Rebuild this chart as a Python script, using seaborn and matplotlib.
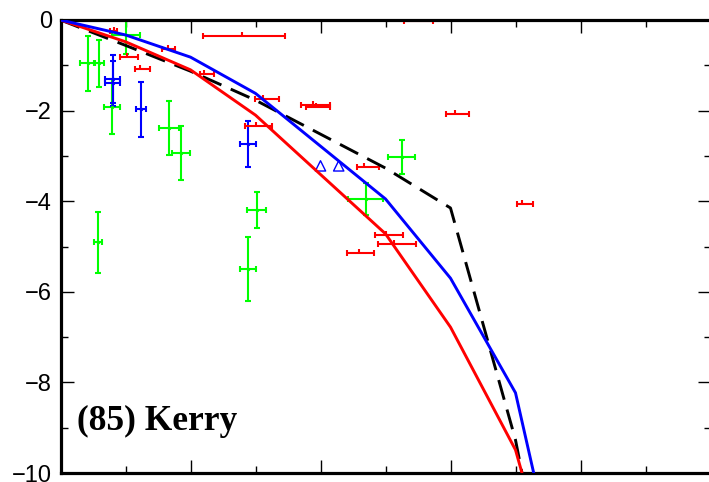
import numpy as np
import matplotlib
matplotlib.use("Agg")
import matplotlib.pyplot as plt
import seaborn as sns
from matplotlib.ticker import MultipleLocator

# model curves
curve_x_red = [0.0, 0.5, 1.0, 1.5, 2.5, 3.0, 3.5, 3.55]
curve_y_red = [0.0, -0.48, -1.10, -2.10, -4.72, -6.78, -9.49, -10.0]
curve_x_blue = [0.0, 0.5, 1.0, 1.5, 2.5, 3.0, 3.5, 3.64]
curve_y_blue = [0.0, -0.33, -0.82, -1.62, -3.95, -5.70, -8.23, -10.0]
curve_x_black = [0.0, 0.5, 1.0, 1.5, 2.0, 2.5, 3.0, 3.5, 3.55]
curve_y_black = [0.0, -0.56, -1.13, -1.77, -2.52, -3.27, -4.15, -9.27, -10.0]

# green observations (x, xerr, y, yerr)
green_x = [0.209, 0.294, 0.506, 0.396, 0.835, 0.929, 0.286, 1.442, 1.509, 2.348, 2.625]
green_xerr = [0.058, 0.038, 0.108, 0.064, 0.075, 0.069, 0.031, 0.065, 0.072, 0.135, 0.102]
green_y = [-0.96, -0.96, -0.33, -1.91, -2.38, -2.94, -4.91, -5.50, -4.19, -3.95, -3.02]
green_yerr = [0.61, 0.51, 0.42, 0.60, 0.60, 0.60, 0.68, 0.70, 0.40, 0.35, 0.38]

# blue observations
blue_x = [0.402, 0.402, 0.619, 1.442]
blue_xerr = [0.058, 0.058, 0.038, 0.058]
blue_y = [-1.30, -1.40, -1.97, -2.74]
blue_yerr = [0.53, 0.50, 0.61, 0.51]
tri_x = [2.00, 2.14]
tri_y = [-3.22, -3.22]

# red observations (asymmetric x errors, tiny upward y tick)
red_x = [0.408, 0.512, 0.609, 0.827, 1.396, 1.104, 1.555, 1.506, 1.945, 1.965,
         2.335, 2.502, 2.568, 2.298, 2.754, 3.035, 3.55]
red_xlo = [0.030, 0.052, 0.038, 0.046, 0.302, 0.031, 0.057, 0.085, 0.095, 0.080,
           0.056, 0.082, 0.128, 0.092, 0.109, 0.069, 0.040]
red_xhi = [0.030, 0.085, 0.082, 0.054, 0.328, 0.075, 0.123, 0.120, 0.128, 0.110,
           0.118, 0.136, 0.166, 0.115, 0.109, 0.105, 0.085]
red_y = [-0.24, -0.81, -1.08, -0.65, -0.35, -1.19, -1.74, -2.34, -1.87, -1.92,
         -3.24, -4.75, -4.94, -5.14, -0.02, -2.07, -4.07]

label = "(85) Kerry"
yticks = [0, -2, -4, -6, -8, -10]

sns.set_style("ticks")
plt.rcParams["font.family"] = ["Liberation Sans", "DejaVu Sans"]
plt.rcParams["text.color"] = "black"
plt.rcParams["ytick.labelcolor"] = "black"

fig = plt.figure(figsize=(7.09, 4.82), dpi=100)
ax = fig.add_axes([60.5 / 709, 9 / 482, 650 / 709, 453 / 482])

ax.errorbar(green_x, green_y, xerr=green_xerr, yerr=green_yerr, fmt=".", color="#00ff00",
            ms=3, lw=1.5, capsize=2.2, capthick=1.5, zorder=2)
ax.errorbar(blue_x, blue_y, xerr=blue_xerr, yerr=blue_yerr, fmt=".", color="#0000ff",
            ms=3, lw=1.5, capsize=2.2, capthick=1.5, zorder=2)
ax.errorbar(red_x, red_y, xerr=[red_xlo, red_xhi], fmt="none", color="#ff0000",
            lw=1.5, capsize=2.2, capthick=1.5, zorder=2)
ax.errorbar(red_x, red_y, yerr=[np.zeros(len(red_y)), np.full(len(red_y), 0.09)],
            fmt="none", color="#ff0000", lw=1.5, capsize=0, zorder=2)
sns.scatterplot(x=tri_x, y=tri_y, marker="^", s=55, facecolor="none",
                edgecolor="#0000ff", linewidth=1.0, ax=ax, zorder=3)

sns.lineplot(x=curve_x_black, y=curve_y_black, sort=False, estimator=None, color="black",
             lw=2.1, linestyle=(0, (7, 3.5)), ax=ax, zorder=4)
sns.lineplot(x=curve_x_red, y=curve_y_red, sort=False, estimator=None, color="#ff0000",
             lw=2.1, ax=ax, zorder=5)
sns.lineplot(x=curve_x_blue, y=curve_y_blue, sort=False, estimator=None, color="#0000ff",
             lw=2.1, ax=ax, zorder=6)

ax.text(0.13, -9.05, label, fontsize=25.5, fontweight="bold", family="Liberation Serif",
        color="black", va="baseline", ha="left")

ax.set_xlim(0, 5)
ax.set_ylim(-10, 0)
ax.set_yticks(yticks)
ax.set_yticklabels([f"{v}".replace("-", "\u2212") for v in yticks])
ax.yaxis.set_minor_locator(MultipleLocator(1))
ax.xaxis.set_major_locator(MultipleLocator(1))
ax.xaxis.set_minor_locator(MultipleLocator(0.5))
ax.tick_params(which="both", direction="in", top=True, right=True, labelbottom=False,
               width=1.0, color="black", labelcolor="black")
ax.tick_params(which="major", length=9.5, labelsize=17, pad=6)
ax.tick_params(which="minor", length=5)
for s in ax.spines.values():
    s.set_visible(True)
    s.set_linewidth(2.3)
    s.set_color("black")
ax.set_xlabel("")
ax.set_ylabel("")

fig.savefig("out.png", dpi=100)
